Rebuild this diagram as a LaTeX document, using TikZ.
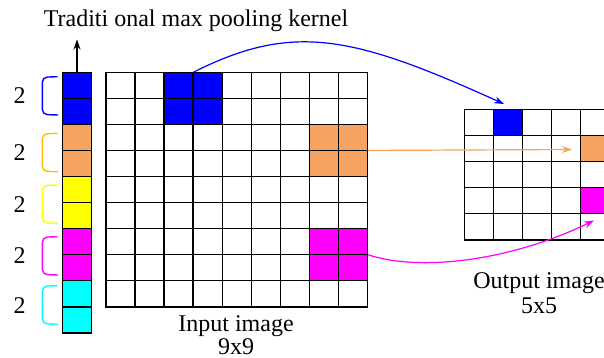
\documentclass[tikz,border=0pt]{standalone}
\usepackage{fontspec}
\setmainfont{Liberation Serif}
\usetikzlibrary{arrows.meta}
\definecolor{kblue}{RGB}{0,0,255}
\definecolor{korange}{RGB}{244,164,96}
\definecolor{kyellow}{RGB}{255,255,0}
\definecolor{kmagenta}{RGB}{255,0,255}
\definecolor{kcyan}{RGB}{0,255,255}
\definecolor{kgold}{RGB}{255,192,0}
\begin{document}
\begin{tikzpicture}[x=1pt,y=-1pt,
  gridline/.style={line width=1.5pt, draw=black},
  block/.style={draw=none, inner sep=0pt, outer sep=0pt, anchor=north west},
  lbl/.style={font=\fontsize{24}{28}\selectfont, inner sep=0pt, anchor=base},
  conn/.style={line width=1.2pt, -{Stealth[length=10pt,width=7pt]}},
  brk/.style={line width=1.4pt, rounded corners=5pt}]
\useasboundingbox (0,0) rectangle (604,358);

% ---------- input image 9x9 ----------
\def\xa{106}\def\ya{72.3}\def\cw{29.08}\def\ch{26.05}
\node[block, fill=kblue, minimum width=58.16pt, minimum height=52.1pt] (inBlue) at (164.16,72.3) {};
\node[block, fill=korange, minimum width=58.16pt, minimum height=52.1pt] (inOrange) at (309.56,124.4) {};
\node[block, fill=kmagenta, minimum width=58.16pt, minimum height=52.1pt] (inMagenta) at (309.56,228.6) {};
\foreach \i in {1,...,8}
  \draw[gridline] ({\xa+\i*\cw},\ya) -- ({\xa+\i*\cw},{\ya+9*\ch});
\foreach \j in {1,...,8}
  \draw[gridline] (\xa,{\ya+\j*\ch}) -- ({\xa+9*\cw},{\ya+\j*\ch});
\draw[gridline] (\xa,\ya) rectangle ({\xa+9*\cw},{\ya+9*\ch});

% ---------- kernel strip ----------
\foreach \c [count=\k from 0] in {kblue,korange,kyellow,kmagenta,kcyan}{
  \node[block, fill=\c, minimum width=29.4pt, minimum height=52.1pt] (s\k) at (62.3,{\ya+2*\k*\ch}) {};
  \draw[gridline] (62.3,{\ya+(2*\k+1)*\ch}) -- (91.7,{\ya+(2*\k+1)*\ch});
  \draw[gridline] (62.3,{\ya+2*\k*\ch}) -- (91.7,{\ya+2*\k*\ch});
}
\draw[gridline] (62.3,\ya) rectangle (91.7,{\ya+10*\ch});

% ---------- brackets and labels ----------
\foreach \c/\t/\b [count=\k from 0] in {kblue/76.7/115, kgold/133.3/171.7, kyellow/185/223.3, kmagenta/236.7/275, kcyan/285.7/324.3}{
  \draw[brk, draw=\c] (57.5,\t) -- (42.3,{\t+0.5}) -- (42.3,{\b-0.5}) -- (58,\b);
  \node[lbl] (two\k) at (19.5,{(\t+\b)/2+8}) {2};
}

% ---------- title and kernel arrow ----------
\node[lbl] (title) at (196,26.7) {Traditi onal max pooling kernel};
\coordinate (kernelTip) at (77,39.5);
\draw[line width=1.3pt, -{Stealth[length=10pt,width=7pt]}] (s0.north) -- (kernelTip);

% ---------- output image 5x5 ----------
\def\xb{464.3}\def\yb{109.3}\def\dw{29}\def\dh{26.1}
\node[block, fill=kblue, minimum width=29pt, minimum height=26.1pt] (outBlue) at (493.3,109.3) {};
\node[block, fill=korange, minimum width=29pt, minimum height=26.1pt] (outOrange) at (580.3,135.4) {};
\node[block, fill=kmagenta, minimum width=29pt, minimum height=26.1pt] (outMagenta) at (580.3,187.6) {};
\foreach \i in {1,...,4}
  \draw[gridline] ({\xb+\i*\dw},\yb) -- ({\xb+\i*\dw},{\yb+5*\dh});
\foreach \j in {1,...,4}
  \draw[gridline] (\xb,{\yb+\j*\dh}) -- ({\xb+5*\dw},{\yb+\j*\dh});
\draw[gridline] (\xb,\yb) rectangle ({\xb+5*\dw},{\yb+5*\dh});

% ---------- connectors ----------
\coordinate (blueTip) at (504,104);
\coordinate (orangeTip) at (572,149.5);
\coordinate (magentaTip) at (594,220.5);
\draw[conn, kblue] (inBlue.north) .. controls (293,22) and (353,35.5) .. (blueTip);
\draw[conn, korange] (inOrange.east) -- (orangeTip);
\draw[conn, kmagenta] (inMagenta.east) .. controls (420,272) and (510,261) .. (magentaTip);

% ---------- captions ----------
\node[lbl] (inCap1) at (236,331.2) {Input image};
\node[lbl] (inCap2) at (236,354.2) {9x9};
\node[lbl] (outCap1) at (539,288) {Output image};
\node[lbl] (outCap2) at (539,313) {5x5};
\end{tikzpicture}
\end{document}
